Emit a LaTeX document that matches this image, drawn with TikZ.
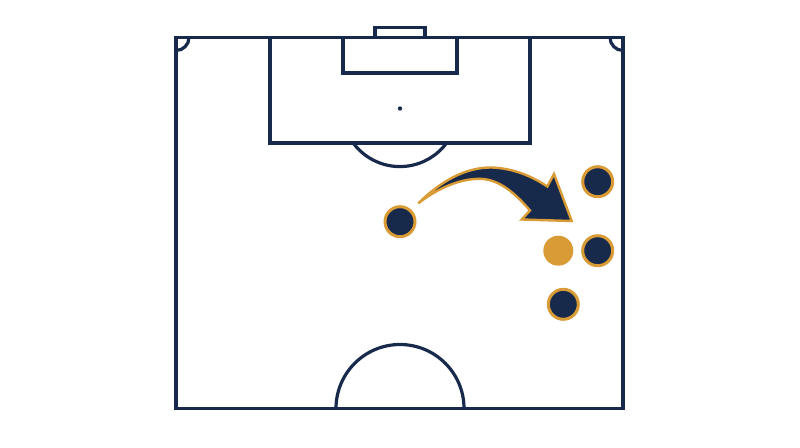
\documentclass[tikz,border=0pt]{standalone}
\definecolor{navy}{HTML}{182A4B}
\definecolor{gold}{HTML}{D99B35}
\begin{document}
\begin{tikzpicture}[x=1pt,y=-1pt,
  pitchline/.style={draw=navy,line width=3.2pt},
  player/.style={circle,fill=navy,draw=gold,line width=3pt,minimum size=30pt,inner sep=0pt},
  opponent/.style={circle,fill=gold,minimum size=30pt,inner sep=0pt}]
\useasboundingbox (0,0) rectangle (800,447);
% pitch
\draw[pitchline] (176,37.5) rectangle (623,408.5);
\draw[pitchline] (270,37.5) rectangle (530,143);
\draw[pitchline] (343,37.5) rectangle (457,73);
\draw[pitchline] (375,27.5) rectangle (425,37.5);
\fill[navy] (400,108.5) circle (2.2pt);
% penalty arc
\draw[pitchline] (353.2,143) arc[start angle=143.6,end angle=36.4,radius=58];
% centre half circle
\draw[pitchline] (336,408.5) arc[start angle=180,end angle=360,radius=64];
% corner arcs
\draw[pitchline] (176,50.5) arc[start angle=90,end angle=0,radius=13];
\draw[pitchline] (610,37.5) arc[start angle=180,end angle=90,radius=13];
% players
\node[player] (p1) at (400,221.7) {};
\node[player] (p2) at (597.7,181.7) {};
\node[player] (p3) at (597.7,250.7) {};
\node[player] (p4) at (563.3,304.3) {};
\node[opponent] (o1) at (558.3,250.7) {};
% arrow
\draw[fill=navy,draw=gold,line width=2.4pt,line join=miter]
  (418.3,203.3) .. controls (440,182) and (465,167) .. (492,167.5)
  .. controls (515,168.5) and (533,177) .. (547.3,186.5)
  -- (554,174) -- (571.7,221) -- (521.7,219.5) -- (530,210.5)
  .. controls (515,193) and (500,180.5) .. (483,179)
  .. controls (462,177.5) and (438,188) .. cycle;
\end{tikzpicture}
\end{document}
